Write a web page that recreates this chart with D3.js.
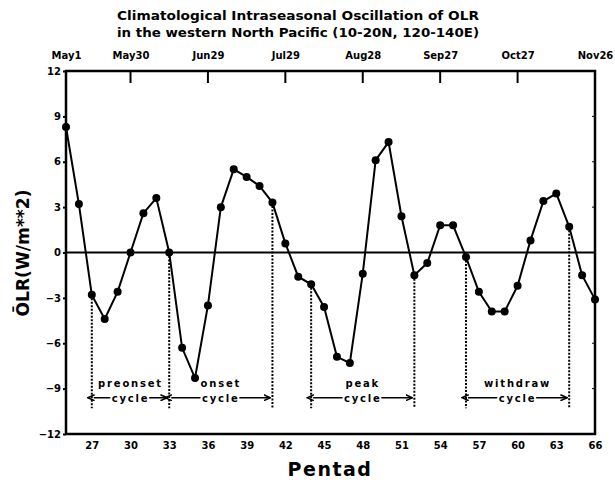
<!DOCTYPE html>
<html><head><meta charset="utf-8">
<script src="https://cdn.jsdelivr.net/npm/d3@7"></script>
<style>
body{margin:0;background:#fff;}
svg{display:block;}
text{font-family:"DejaVu Sans",sans-serif;font-weight:bold;fill:#000;}
</style></head>
<body>
<svg id="c" width="615" height="480"></svg>
<script>
// ---- data ----
const pentads = d3.range(25, 67);
const olr = [8.3, 3.2, -2.8, -4.4, -2.6, 0.0, 2.6, 3.6, 0.0, -6.3, -8.3, -3.5,
             3.0, 5.5, 5.0, 4.4, 3.3, 0.6, -1.6, -2.1, -3.6, -6.9, -7.3, -1.4,
             6.1, 7.3, 2.4, -1.5, -0.7, 1.8, 1.8, -0.3, -2.6, -3.9, -3.9, -2.2,
             0.8, 3.4, 3.9, 1.7, -1.5, -3.1];
const yTicks = [-12, -9, -6, -3, 0, 3, 6, 9, 12];
const bottomTicks = [27, 30, 33, 36, 39, 42, 45, 48, 51, 54, 57, 60, 63, 66];
const dateTicks = [25, 30, 36, 42, 48, 54, 60, 66];
const dateLabels = ["May1", "May30", "Jun29", "Jul29", "Aug28", "Sep27", "Oct27", "Nov26"];
const boundaries = [27, 33, 41, 44, 52, 56, 64];
const phaseNames = ["preonset", "onset", "peak", "withdraw"];
const phaseStart = [27, 33, 44, 56];
const phaseEnd = [33, 41, 52, 64];
const titleLines = ["Climatological Intraseasonal Oscillation of OLR",
                    "in the western North Pacific (10-20N, 120-140E)"];

// ---- layout ----
const L = 66, R = 595, T = 71, B = 434;
const svg = d3.select("#c");
const x = d3.scaleLinear().domain([25, 66]).range([L, R]);
const y = d3.scaleLinear().domain([-12, 12]).range([B, T]);

// title
svg.selectAll("text.title").data(titleLines).enter().append("text")
  .attr("class", "title")
  .attr("x", 298).attr("y", (d, i) => 20 + i * 17)
  .attr("text-anchor", "middle")
  .attr("font-size", 13)
  .attr("textLength", 362).attr("lengthAdjust", "spacingAndGlyphs")
  .text(d => d);

// arrow marker
const defs = svg.append("defs");
["s", "e"].forEach(k => {
  defs.append("marker").attr("id", "arr" + k)
    .attr("viewBox", "0 0 10 10").attr("refX", k === "e" ? 9 : 1).attr("refY", 5)
    .attr("markerWidth", 5).attr("markerHeight", 5)
    .attr("orient", "auto-start-reverse")
    .append("path").attr("d", "M0,1 L9,5 L0,9").attr("fill", "none")
    .attr("stroke", "#000").attr("stroke-width", 2);
});

// top axis (dates)
const topAxis = d3.axisTop(x).tickValues(dateTicks).tickSize(0)
  .tickFormat((d, i) => dateLabels[i]);
const gt = svg.append("g").attr("transform", `translate(0,${T})`).call(topAxis);
gt.select(".domain").remove();
gt.selectAll("text").attr("font-size", 10).attr("dy", "-0.9em")
  .attr("font-family", "DejaVu Sans").attr("font-weight", "bold");
// inward ticks from top
svg.append("g").selectAll("line").data(dateTicks.slice(1, -1)).enter().append("line")
  .attr("x1", d => x(d)).attr("x2", d => x(d))
  .attr("y1", T).attr("y2", T + 12)
  .attr("stroke", "#000").attr("stroke-width", 2);

// left axis
const leftAxis = d3.axisLeft(y).tickValues(yTicks).tickSize(3).tickPadding(2);
const gl = svg.append("g").attr("transform", `translate(${L},0)`).call(leftAxis);
gl.select(".domain").remove();
gl.selectAll("line").attr("stroke-width", 2);
gl.selectAll("text").attr("font-size", 10)
  .attr("font-family", "DejaVu Sans").attr("font-weight", "bold");

// right inward minor ticks
svg.append("g").selectAll("line").data(yTicks.slice(1, -1)).enter().append("line")
  .attr("x1", R - 3).attr("x2", R).attr("y1", d => y(d)).attr("y2", d => y(d))
  .attr("stroke", "#000").attr("stroke-width", 1);

// bottom axis
const botAxis = d3.axisBottom(x).tickValues(bottomTicks).tickSize(0).tickPadding(8);
const gb = svg.append("g").attr("transform", `translate(0,${B})`).call(botAxis);
gb.select(".domain").remove();
gb.selectAll("text").attr("font-size", 10)
  .attr("font-family", "DejaVu Sans").attr("font-weight", "bold");

// frame
svg.append("rect").attr("x", L).attr("y", T).attr("width", R - L).attr("height", B - T)
  .attr("fill", "none").attr("stroke", "#000").attr("stroke-width", 2.5);

// zero line
svg.append("line").attr("x1", L).attr("x2", R).attr("y1", y(0)).attr("y2", y(0))
  .attr("stroke", "#000").attr("stroke-width", 2);

// dotted boundaries
svg.append("g").selectAll("line").data(boundaries).enter().append("line")
  .attr("x1", d => x(d)).attr("x2", d => x(d))
  .attr("y1", d => y(olr[d - 25])).attr("y2", y(-10.3))
  .attr("stroke", "#000").attr("stroke-width", 2).attr("stroke-dasharray", "2,1.5");

// phase labels
const ph = svg.append("g");
phaseNames.forEach((n, i) => {
  const xm = (x(phaseStart[i]) + x(phaseEnd[i])) / 2;
  ph.append("text").attr("x", xm).attr("y", y(-8.6) + 4)
    .attr("text-anchor", "middle").attr("font-size", 10).attr("letter-spacing", 1.8)
    .text(n);
  ph.append("line").attr("x1", x(phaseStart[i]) + 2).attr("x2", x(phaseEnd[i]) - 2)
    .attr("y1", y(-9.6)).attr("y2", y(-9.6))
    .attr("stroke", "#000").attr("stroke-width", 1.5)
    .attr("marker-start", "url(#arrs)").attr("marker-end", "url(#arre)");
  ph.append("text").attr("x", xm).attr("y", y(-9.6) + 4)
    .attr("text-anchor", "middle").attr("font-size", 10).attr("letter-spacing", 1.8)
    .attr("stroke", "#fff").attr("stroke-width", 4).attr("paint-order", "stroke")
    .text("cycle");
});

// data line & markers
const line = d3.line().x((d, i) => x(pentads[i])).y(d => y(d));
svg.append("path").datum(olr).attr("d", line)
  .attr("fill", "none").attr("stroke", "#000").attr("stroke-width", 2);
svg.append("g").selectAll("circle").data(olr).enter().append("circle")
  .attr("cx", (d, i) => x(pentads[i])).attr("cy", d => y(d)).attr("r", 4)
  .attr("fill", "#000");

// axis titles
svg.append("text").attr("x", 330).attr("y", 476).attr("text-anchor", "middle")
  .attr("font-size", 19).attr("letter-spacing", 1.5).text("Pentad");
svg.append("text").attr("transform", "translate(29,253) rotate(-90)")
  .attr("text-anchor", "middle").attr("font-size", 17)
  .attr("textLength", 127).attr("lengthAdjust", "spacingAndGlyphs")
  .text("O\u0304LR(W/m**2)");
</script>
</body></html>
